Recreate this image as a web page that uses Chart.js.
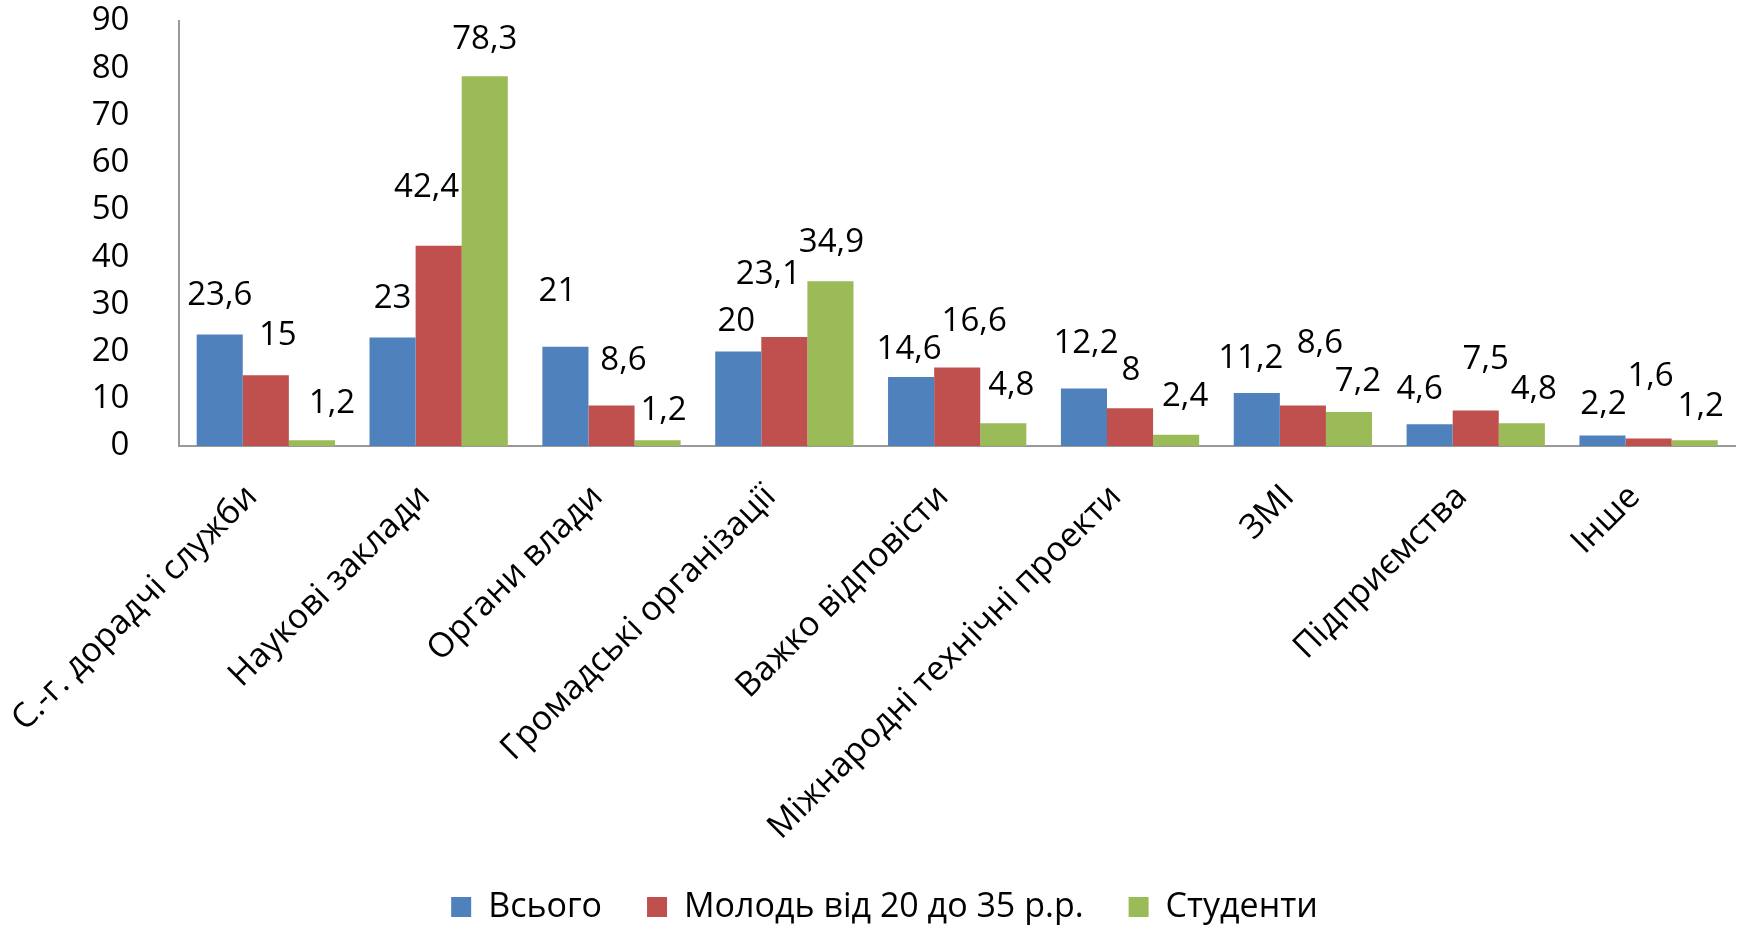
<!DOCTYPE html>
<html>
<head>
<meta charset="utf-8">
<script src="https://cdn.jsdelivr.net/npm/chart.js@4"></script>
<style>
  html, body { margin: 0; padding: 0; background: #fff; }
  #wrap { width: 1744px; height: 925px; }
</style>
</head>
<body>
<div id="wrap"><canvas id="chart" width="1744" height="925"></canvas></div>
<script>
var categories = ['С.-г. дорадчі служби', 'Наукові заклади', 'Органи влади', 'Громадські організації',
    'Важко відповісти', 'Міжнародні технічні проекти', 'ЗМІ', 'Підприємства', 'Інше'];
var vsogo = [23.6, 23, 21, 20, 14.6, 12.2, 11.2, 4.6, 2.2];
var molod = [15, 42.4, 8.6, 23.1, 16.6, 8, 8.6, 7.5, 1.6];
var studenty = [1.2, 78.3, 1.2, 34.9, 4.8, 2.4, 7.2, 4.8, 1.2];
var seriesNames = ['Всього', 'Молодь від 20 до 35 р.р.', 'Студенти'];
var yTicks = [0, 10, 20, 30, 40, 50, 60, 70, 80, 90];

// where the value labels sit, relative to the top of each bar (dx, height above), per series
var labelDx = [
    [0, 0, -8, -2, -2, 2, -6, -10, 1],
    [12, -12, 12, -16, 17, 1, 17, 10, 2],
    [20, 0, 6, 1, 8, 9, 9, 12, 6]
];
var labelDy = [
    [39, 39, 55, 30, 27, 45, 35, 35, 31],
    [40, 58, 45, 62, 46, 38, 62, 51, 62],
    [37, 37, 30, 39, 38, 38, 30, 34, 34]
];

var fontFamily = '"Open Sans", "Noto Sans", sans-serif';
var fontSize = 33;

var barLabels = {
    id: 'barLabels',
    afterDatasetsDraw: function(chart) {
        var ctx = chart.ctx;
        ctx.save();
        ctx.font = fontSize + 'px ' + fontFamily;
        ctx.fillStyle = '#000';
        ctx.textAlign = 'center';
        ctx.textBaseline = 'middle';
        chart.data.datasets.forEach(function(ds, i) {
            var meta = chart.getDatasetMeta(i);
            meta.data.forEach(function(bar, j) {
                var txt = String(ds.data[j]).replace('.', ',');
                ctx.fillText(txt, bar.x + labelDx[i][j], bar.y - labelDy[i][j]);
            });
        });
        ctx.restore();
    }
};

var ctx = document.getElementById('chart').getContext('2d');
var chart = new Chart(ctx, {
    type: 'bar',
    data: {
        labels: categories,
        datasets: [{
            label: seriesNames[0],
            data: vsogo,
            backgroundColor: '#4F81BD'
        }, {
            label: seriesNames[1],
            data: molod,
            backgroundColor: '#C0504D'
        }, {
            label: seriesNames[2],
            data: studenty,
            backgroundColor: '#9BBB59'
        }]
    },
    options: {
        responsive: false,
        animation: false,
        layout: {
            padding: { left: 34, right: 9, top: 21, bottom: -9 }
        },
        datasets: {
            bar: {
                barPercentage: 1,
                categoryPercentage: 0.8
            }
        },
        scales: {
            x: {
                grid: { display: false },
                border: { display: true, color: '#999', width: 2 },
                afterFit: function(scale) {
                    scale.height = 399;
                },
                ticks: {
                    color: '#000',
                    font: { family: fontFamily, size: 34 },
                    minRotation: 45,
                    maxRotation: 45,
                    autoSkip: false,
                    padding: 23,
                    labelOffset: -14
                }
            },
            y: {
                min: 0,
                max: 90,
                afterBuildTicks: function(scale) {
                    scale.ticks = yTicks.map(function(v) { return { value: v }; });
                },
                afterFit: function(scale) {
                    scale.width = 129;
                    scale.paddingTop = 0;
                    scale.paddingBottom = 0;
                },
                grid: { display: false },
                border: { display: true, color: '#999', width: 2 },
                ticks: {
                    color: '#000',
                    font: { family: fontFamily, size: fontSize },
                    padding: 42
                }
            }
        },
        plugins: {
            legend: {
                position: 'bottom',
                labels: {
                    color: '#000',
                    font: { family: fontFamily, size: 34 },
                    boxWidth: 20,
                    boxHeight: 20,
                    padding: 45
                }
            },
            tooltip: { enabled: false }
        }
    },
    plugins: [barLabels]
});
</script>
</body>
</html>
